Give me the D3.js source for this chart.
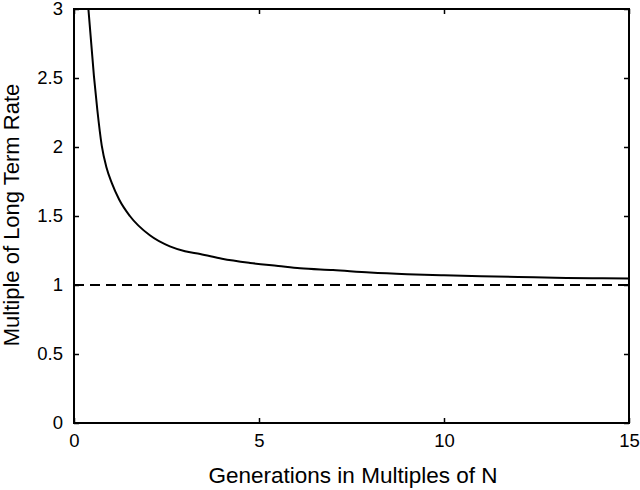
<!DOCTYPE html>
<html>
<head>
<meta charset="utf-8">
<script src="https://cdn.jsdelivr.net/npm/d3@7"></script>
<style>
  body { margin: 0; background: #fff; }
  svg { display: block; font-family: "Liberation Sans", Arial, sans-serif; }
</style>
</head>
<body>
<svg id="chart" width="640" height="490"></svg>
<script>
// values
var gens  = [0.38, 0.54, 0.63, 0.75, 0.88, 1.02, 1.22, 1.51, 2.05, 2.59, 3.0, 3.41, 4.0, 4.76, 5.52, 6.11, 7.0, 8.0, 9.0, 10.0, 11.0, 12.0, 13.0, 14.0, 15.0]
var rate  = [3.03, 2.51, 2.27, 2.01, 1.85, 1.74, 1.62, 1.50, 1.36, 1.28, 1.245, 1.225, 1.19, 1.16, 1.138, 1.121, 1.108, 1.09, 1.078, 1.07, 1.063, 1.058, 1.053, 1.049, 1.047]
var longTerm = 1
var xTicks = [0, 5, 10, 15]
var yTicks = [0, 0.5, 1, 1.5, 2, 2.5, 3]

var svg = d3.select('#chart')
var plotL = 74, plotR = 629, plotT = 9, plotB = 423

var x = d3.scaleLinear().domain([0, 15]).range([plotL, plotR])
var y = d3.scaleLinear().domain([0, 3]).range([plotB, plotT])

svg.append('clipPath').attr('id', 'clip')
  .append('rect').attr('x', plotL).attr('y', plotT)
  .attr('width', plotR - plotL).attr('height', plotB - plotT)

let fmt = d => d3.format('')(d)

// axes, ticks pointing inward like matlab
let styleAxis = (g) => {
  g.attr('font-size', null).attr('font-family', null)
  g.select('.domain').remove()
  g.selectAll('line').attr('stroke', '#000').attr('stroke-width', 1.5)
  g.selectAll('text').attr('fill', '#000').attr('font-size', 18.5)
}
svg.append('g').attr('transform', 'translate(0,' + plotB + ')')
  .call(d3.axisBottom(x).tickValues(xTicks).tickFormat(fmt).tickSizeInner(-5).tickSizeOuter(0).tickPadding(11))
  .call(styleAxis)
svg.append('g').attr('transform', 'translate(0,' + plotT + ')')
  .call(d3.axisTop(x).tickValues(xTicks).tickFormat('').tickSizeInner(-5).tickSizeOuter(0))
  .call(styleAxis)
svg.append('g').attr('transform', 'translate(' + plotL + ',0)')
  .call(d3.axisLeft(y).tickValues(yTicks).tickFormat(fmt).tickSizeInner(-5).tickSizeOuter(0).tickPadding(11))
  .call(styleAxis)
svg.append('g').attr('transform', 'translate(' + plotR + ',0)')
  .call(d3.axisRight(y).tickValues(yTicks).tickFormat('').tickSizeInner(-5).tickSizeOuter(0))
  .call(styleAxis)

svg.append('rect')
  .attr('x', plotL).attr('y', plotT)
  .attr('width', plotR - plotL).attr('height', plotB - plotT)
  .attr('fill', 'none').attr('stroke', '#000').attr('stroke-width', 2)

// long term rate
svg.append('line')
  .attr('x1', x(0)).attr('x2', x(15))
  .attr('y1', y(longTerm)).attr('y2', y(longTerm))
  .attr('stroke', '#000').attr('stroke-width', 2)
  .attr('stroke-dasharray', '10,6')

let line = d3.line()
  .x((d, i) => x(gens[i]))
  .y(d => y(d))
  .curve(d3.curveMonotoneX)

svg.append('path')
  .datum(rate)
  .attr('clip-path', 'url(#clip)')
  .attr('d', line)
  .attr('fill', 'none')
  .attr('stroke', '#000')
  .attr('stroke-width', 2)

svg.append('text')
  .attr('x', 353).attr('y', 483)
  .attr('text-anchor', 'middle').attr('font-size', 22.5)
  .text('Generations in Multiples of N')

svg.append('text')
  .attr('transform', 'translate(19,215) rotate(-90)')
  .attr('text-anchor', 'middle').attr('font-size', 22)
  .text('Multiple of Long Term Rate')
</script>
</body>
</html>
